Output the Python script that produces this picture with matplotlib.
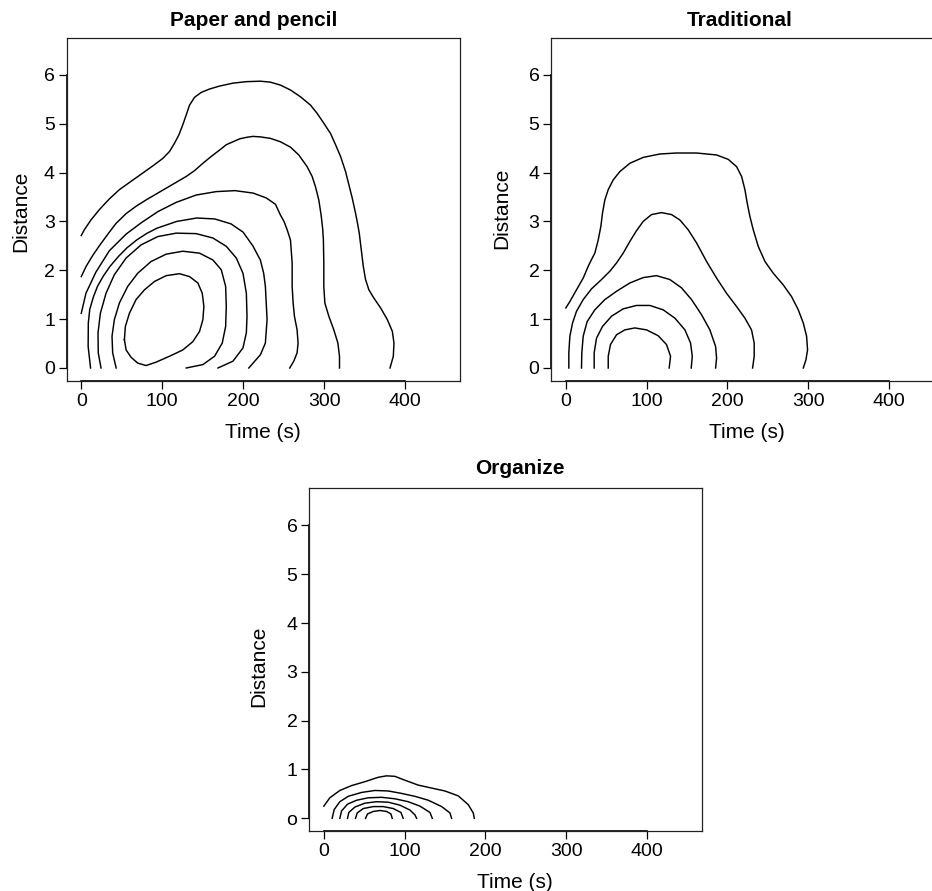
import matplotlib
matplotlib.use("Agg")
import matplotlib.pyplot as plt

plt.rcParams['font.family'] = ['Liberation Sans', 'DejaVu Sans']

# contour lines, outer to inner: time (s), distance
paper_time = [
    [0, 3.8, 12, 22.3, 34.7, 47.1, 61.5, 76, 90.4, 100.8, 109, 115.2, 120.6, 125.5, 129.7, 133.8, 140, 148.2, 158.6, 170.9, 187.5, 204, 221.3, 233.7, 246.1, 258.5, 270.9, 283.3, 291.5, 299.7, 308, 314.2, 320.4, 326.6, 330.7, 334.8, 338.9, 341.5, 343.5, 346, 348.5, 351.3, 355.4, 361.6, 369.9, 378.2, 384.4, 386.4, 385.6, 381.5],
    [0, 6, 14, 24, 34.7, 43, 55.4, 67.7, 80.1, 92.5, 104.9, 117.3, 129.7, 140, 150.3, 160.6, 170.9, 179.2, 187.5, 195.7, 204, 212, 221.3, 233.7, 246.1, 258.5, 268.8, 279.1, 285.3, 289.4, 293.5, 296.4, 298.3, 299.2, 299.7, 299.7, 301, 305.9, 312.1, 317.1, 319.1, 319.1],
    [0, 5.8, 18, 34.7, 55.4, 73.9, 94.6, 117.3, 142, 166.8, 190, 212.3, 228.7, 240, 246.1, 250.5, 254.4, 258.5, 260.6, 260.6, 261.8, 263.4, 266.7, 267.9, 266.7, 262.6, 257.6],
    [11.5, 8.5, 8.7, 10.5, 14.9, 20, 27.2, 35.5, 45.8, 56.5, 68.5, 80.5, 93.3, 118, 142.8, 165, 185, 200, 212, 221.3, 225.4, 227.5, 229.6, 227.5, 221.3, 207],
    [24.4, 21, 20.7, 23.6, 30.6, 40.9, 55.4, 73.9, 94.6, 117.3, 142, 162.7, 179.2, 191.6, 199.8, 204, 204.8, 204, 199.8, 187.5, 168.9],
    [43.1, 38.8, 38, 40.9, 47.1, 57.4, 69.8, 86.3, 104.9, 125.5, 146.2, 162.7, 173, 178.4, 179.2, 178.4, 174.2, 164.7, 150.3, 129.7],
    [53.3, 54.5, 59.5, 67.7, 78.1, 90.4, 104.9, 121.4, 133.8, 144.1, 149.5, 151.5, 150.3, 146.2, 137.9, 125.5, 109, 92.5, 80.1, 69.8, 61.5, 55.4, 53.3],
]
paper_dist = [
    [2.71, 2.83, 3.03, 3.24, 3.46, 3.65, 3.82, 3.99, 4.16, 4.29, 4.43, 4.6, 4.77, 4.98, 5.18, 5.38, 5.54, 5.64, 5.71, 5.77, 5.83, 5.86, 5.87, 5.85, 5.79, 5.69, 5.55, 5.38, 5.21, 5.01, 4.8, 4.57, 4.33, 4.02, 3.75, 3.48, 3.17, 2.95, 2.76, 2.42, 2.08, 1.81, 1.6, 1.43, 1.23, 0.99, 0.75, 0.51, 0.24, 0],
    [1.87, 2.08, 2.3, 2.54, 2.78, 2.96, 3.16, 3.31, 3.44, 3.56, 3.68, 3.8, 3.92, 4.04, 4.19, 4.33, 4.46, 4.57, 4.63, 4.69, 4.72, 4.74, 4.73, 4.7, 4.63, 4.52, 4.36, 4.12, 3.92, 3.71, 3.44, 3.13, 2.85, 2.62, 2.15, 1.67, 1.33, 1.06, 0.78, 0.51, 0.24, 0],
    [1.12, 1.53, 1.96, 2.4, 2.74, 2.97, 3.2, 3.39, 3.54, 3.61, 3.63, 3.58, 3.48, 3.35, 3.13, 3.0, 2.83, 2.62, 2.15, 1.67, 1.33, 1.06, 0.78, 0.51, 0.31, 0.14, 0],
    [0, 0.44, 0.92, 1.2, 1.45, 1.67, 1.88, 2.08, 2.28, 2.46, 2.62, 2.75, 2.86, 3.0, 3.07, 3.05, 2.95, 2.78, 2.5, 2.21, 1.94, 1.67, 0.99, 0.51, 0.27, 0],
    [0, 0.31, 0.72, 1.12, 1.53, 1.91, 2.25, 2.52, 2.69, 2.76, 2.75, 2.66, 2.49, 2.25, 1.94, 1.53, 1.06, 0.72, 0.41, 0.14, 0],
    [0, 0.31, 0.65, 0.99, 1.33, 1.67, 1.94, 2.18, 2.33, 2.39, 2.35, 2.21, 2.01, 1.67, 1.26, 0.85, 0.51, 0.24, 0.07, 0],
    [0.58, 0.85, 1.12, 1.4, 1.6, 1.77, 1.89, 1.93, 1.87, 1.74, 1.53, 1.26, 0.99, 0.75, 0.54, 0.37, 0.24, 0.12, 0.05, 0.1, 0.22, 0.37, 0.58],
]

trad_time = [
    [0, 5, 13.2, 21.5, 27.7, 31.8, 35.9, 40.1, 43.4, 45.4, 48.3, 52.5, 58.7, 66.9, 79.3, 95.8, 116.5, 137.1, 161.9, 186.7, 201.2, 211.5, 217.7, 221.8, 224.7, 228, 232.1, 238.3, 246.6, 256.9, 269.3, 279.6, 287.9, 294.1, 298.2, 299.4, 297.4, 294.1],
    [3.7, 3.7, 5, 8.3, 13.2, 21.5, 31.8, 44.2, 54.5, 62.8, 71, 79.3, 87.5, 95.8, 106.1, 118.5, 130.9, 141.2, 151.5, 161.9, 174.3, 186.7, 199, 211.4, 221.8, 230, 233.3, 233.3, 231.3],
    [19.4, 19.8, 21.5, 26.4, 35.9, 48.3, 62.8, 79.3, 95.8, 112.3, 128.9, 143.3, 155.7, 168.1, 178.4, 185.5, 186.7, 185.5],
    [35.1, 35.1, 38, 45.4, 56.6, 71, 87.5, 104.1, 120.6, 135.1, 147.5, 154.5, 156.6, 155.3],
    [52.5, 52.5, 55.3, 62.8, 73.1, 85.5, 100, 114.4, 124.7, 129.7, 128],
]
trad_dist = [
    [1.23, 1.36, 1.6, 1.84, 2.08, 2.22, 2.35, 2.62, 2.9, 3.17, 3.44, 3.65, 3.85, 4.02, 4.19, 4.31, 4.38, 4.4, 4.4, 4.36, 4.27, 4.12, 3.92, 3.65, 3.37, 3.1, 2.83, 2.49, 2.18, 1.94, 1.7, 1.46, 1.19, 0.92, 0.65, 0.37, 0.17, 0],
    [0, 0.31, 0.65, 0.92, 1.16, 1.4, 1.62, 1.81, 1.98, 2.15, 2.35, 2.59, 2.81, 3.0, 3.14, 3.18, 3.14, 3.03, 2.83, 2.56, 2.18, 1.84, 1.53, 1.26, 1.02, 0.78, 0.51, 0.24, 0],
    [0, 0.31, 0.65, 0.95, 1.19, 1.4, 1.57, 1.74, 1.85, 1.89, 1.81, 1.64, 1.4, 1.09, 0.78, 0.44, 0.2, 0],
    [0, 0.31, 0.61, 0.85, 1.06, 1.21, 1.28, 1.28, 1.19, 1.02, 0.78, 0.51, 0.24, 0],
    [0, 0.24, 0.48, 0.68, 0.78, 0.82, 0.78, 0.66, 0.48, 0.24, 0],
]

org_time = [
    [0, 7.4, 19.8, 34.3, 50.8, 67.3, 77.6, 87.9, 100.3, 116.8, 133.3, 149.8, 166.3, 178.7, 184.9, 186.2],
    [10.3, 12.8, 19.8, 30.1, 46.7, 63.2, 79.7, 96.2, 112.7, 129.3, 145.8, 156.1, 158.1],
    [19.8, 21.9, 29.3, 40.5, 54.9, 71.4, 87.9, 104.4, 118.9, 131.3, 134.2],
    [29.3, 30.9, 38.4, 50.8, 65.2, 79.7, 94.1, 106.5, 112.7, 114.8],
    [39.2, 41.3, 48.7, 61.1, 73.5, 85.9, 95.4, 98.2],
    [51.6, 54.1, 61.1, 69.4, 77.6, 83, 84.6],
]
org_dist = [
    [0.25, 0.42, 0.57, 0.67, 0.75, 0.84, 0.87, 0.86, 0.78, 0.68, 0.62, 0.56, 0.46, 0.28, 0.11, 0],
    [0, 0.18, 0.34, 0.45, 0.53, 0.57, 0.56, 0.51, 0.45, 0.37, 0.24, 0.11, 0],
    [0, 0.15, 0.29, 0.37, 0.42, 0.43, 0.4, 0.34, 0.25, 0.12, 0],
    [0, 0.12, 0.23, 0.31, 0.34, 0.33, 0.27, 0.17, 0.07, 0],
    [0, 0.11, 0.2, 0.24, 0.24, 0.2, 0.12, 0],
    [0, 0.09, 0.14, 0.16, 0.14, 0.09, 0],
]

titles = ["Paper and pencil", "Traditional", "Organize"]
x_ticks = [0, 100, 200, 300, 400]
y_ticks = [0, 1, 2, 3, 4, 5, 6]
y_labels_org = ['o', '1', '2', '3', '4', '5', '6']

W, H = 932, 891
fig = plt.figure(figsize=(W / 100, H / 100), dpi=100)

# axes boxes in pixels: left, top, right, bottom
boxes = [(66.7, 37.7, 460, 380.7), (551.3, 37.7, 943.7, 380.7), (309.3, 488.3, 702, 831)]
title_pos = [(254, 26), (740, 26), (520, 474)]
xlabel_x = [263, 747, 515]
ylabel_xy = [(-0.0923, 0.495), (-0.1024, 0.504), (-0.1042, 0.481)]

panels = [(paper_time, paper_dist), (trad_time, trad_dist), (org_time, org_dist)]

for i, (times, dists) in enumerate(panels):
    l, t, r, b = boxes[i]
    ax = fig.add_axes([l / W, 1 - b / H, (r - l) / W, (b - t) / H])
    for xs, ys in zip(times, dists):
        ax.plot(xs, ys, color='black', lw=1.05, solid_joinstyle='round')
    ax.set_xlim(-18, 468)
    ax.set_ylim(-0.26, 6.76)
    ax.set_xticks(x_ticks)
    ax.set_yticks(y_ticks)
    if i == 2:
        ax.set_yticklabels(y_labels_org)
    ax.tick_params(direction='out', length=5.5, width=0.9, labelsize=14, pad=3, color='black')
    for s in ax.spines.values():
        s.set_linewidth(0.9)
        s.set_color('#222222')
    # R style axis lines from first to last tick
    ax.plot([-18, -18], [0, 6], color='black', lw=1.2, clip_on=False)
    ax.plot([0, 400], [-0.26, -0.26], color='black', lw=1.2, clip_on=False)
    ax.set_ylabel("Distance", fontsize=15)
    ax.yaxis.set_label_coords(*ylabel_xy[i])
    ax.set_xlabel("Time (s)", fontsize=15)
    ax.xaxis.set_label_coords((xlabel_x[i] - l) / (r - l), -0.122)
    tx, ty = title_pos[i]
    fig.text(tx / W, 1 - ty / H, titles[i], ha='center', va='baseline',
             fontsize=15, fontweight='bold')

fig.savefig("out.png", dpi=100)
